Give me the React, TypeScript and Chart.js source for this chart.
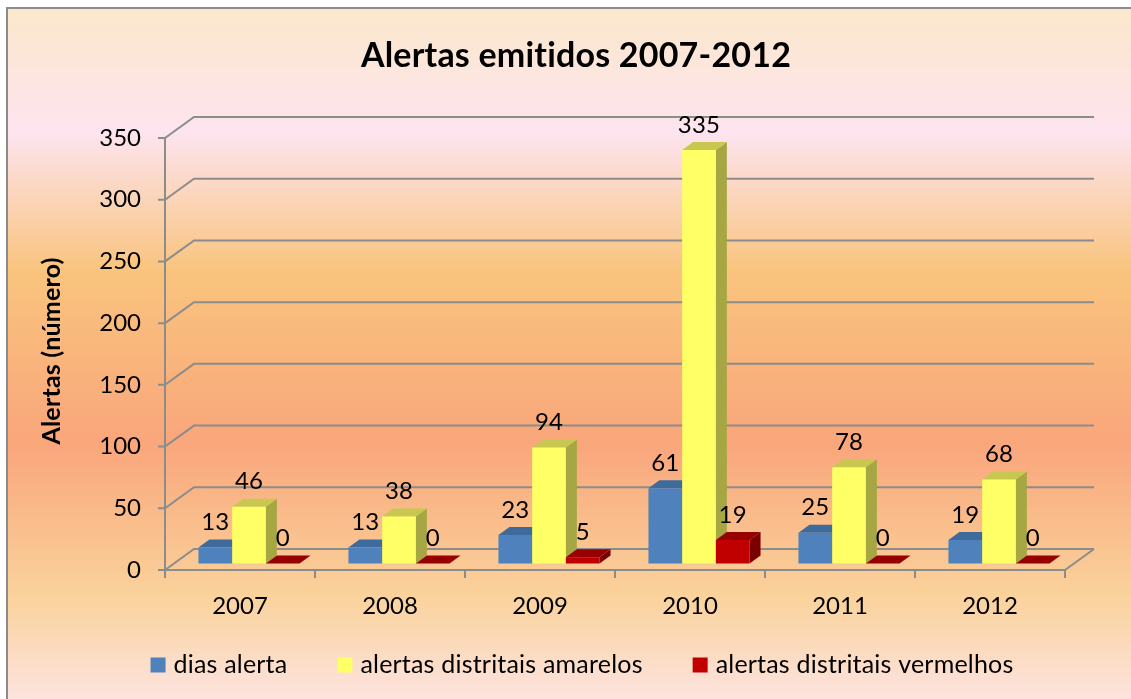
import React, { useEffect, useRef } from "react";
import { Chart, registerables } from "chart.js";

Chart.register(...registerables);

// ---------- data ----------
const categories = ["2007", "2008", "2009", "2010", "2011", "2012"];
const diasAlerta = [13, 13, 23, 61, 25, 19];
const alertasAmarelos = [46, 38, 94, 335, 78, 68];
const alertasVermelhos = [0, 0, 5, 19, 0, 0];
const seriesNames = ["dias alerta", "alertas distritais amarelos", "alertas distritais vermelhos"];
const yTickValues = [0, 50, 100, 150, 200, 250, 300, 350];
const titleText = "Alertas emitidos 2007-2012";
const yTitleText = "Alertas (número)";

// ---------- styles ----------
const FONT = "Lato, 'Open Sans', 'DejaVu Sans', sans-serif";
const FRONT = ["#4F81BD", "#FFFF66", "#C00000"];
const TOP = ["#3F6A9C", "#C8C850", "#960000"];
const SIDE = ["#385D8A", "#A6A642", "#7A0000"];
const GRID = "#8C8C8C";
const WALL_DX = 29;
const WALL_DY = 21;
const SHIFT_X = 9;
const SHIFT_Y = 6.5;
const BAR_DX = 11;
const BAR_DY = 8;

const threeD = {
  id: "threeD",
  beforeDraw(chart: any) {
    const { ctx, width, height } = chart;
    const area = chart.chartArea;
    const ys = chart.scales.y;
    ctx.save();
    ctx.fillStyle = "#ffffff";
    ctx.fillRect(0, 0, width, height);
    const g = ctx.createLinearGradient(0, 8, 0, height);
    g.addColorStop(0.0, "#FBE8CB");
    g.addColorStop(0.18, "#FDE4EF");
    g.addColorStop(0.38, "#F9C47E");
    g.addColorStop(0.63, "#F9A67B");
    g.addColorStop(0.85, "#FAD29B");
    g.addColorStop(1.0, "#FDE3DF");
    ctx.fillStyle = g;
    ctx.fillRect(7, 8, width - 7, height - 8);
    ctx.strokeStyle = "#8C8C8C";
    ctx.lineWidth = 2;
    ctx.beginPath();
    ctx.moveTo(7, height + 5);
    ctx.lineTo(7, 8);
    ctx.lineTo(width + 5, 8);
    ctx.stroke();

    // walls / gridlines
    ctx.strokeStyle = GRID;
    ctx.lineWidth = 2;
    yTickValues.forEach((v) => {
      const py = ys.getPixelForValue(v);
      ctx.beginPath();
      ctx.moveTo(area.left - 7, py);
      ctx.lineTo(area.left, py);
      ctx.lineTo(area.left + WALL_DX, py - WALL_DY);
      ctx.lineTo(area.right + WALL_DX, py - WALL_DY);
      ctx.stroke();
    });
    const p0 = ys.getPixelForValue(0);
    const pTop = ys.getPixelForValue(yTickValues[yTickValues.length - 1]);
    ctx.beginPath();
    ctx.moveTo(area.left, pTop);
    ctx.lineTo(area.left, p0);
    ctx.lineTo(area.right, p0);
    ctx.lineTo(area.right + WALL_DX, p0 - WALL_DY);
    ctx.stroke();
    const n = categories.length;
    for (let i = 0; i <= n; i++) {
      const bx = area.left + ((area.right - area.left) * i) / n;
      ctx.beginPath();
      ctx.moveTo(bx, p0);
      ctx.lineTo(bx, p0 + 8);
      ctx.stroke();
    }
    ctx.restore();
  },
  beforeDatasetsDraw(chart: any) {
    const ctx = chart.ctx;
    ctx.save();
    ctx.translate(SHIFT_X, -SHIFT_Y);
    const metas = chart.data.datasets.map((_: any, i: number) => chart.getDatasetMeta(i));
    for (let j = 0; j < categories.length; j++) {
      for (let i = 0; i < metas.length; i++) {
        const el = metas[i].data[j];
        if (!el) continue;
        const { x, y, base, width } = el.getProps(["x", "y", "base", "width"], true);
        const x1 = x - width / 2;
        const x2 = x + width / 2;
        ctx.fillStyle = SIDE[i];
        ctx.beginPath();
        ctx.moveTo(x2, y);
        ctx.lineTo(x2 + BAR_DX, y - BAR_DY);
        ctx.lineTo(x2 + BAR_DX, base - BAR_DY);
        ctx.lineTo(x2, base);
        ctx.closePath();
        ctx.fill();
        ctx.fillStyle = TOP[i];
        ctx.beginPath();
        ctx.moveTo(x1, y);
        ctx.lineTo(x1 + BAR_DX, y - BAR_DY);
        ctx.lineTo(x2 + BAR_DX, y - BAR_DY);
        ctx.lineTo(x2, y);
        ctx.closePath();
        ctx.fill();
        el.draw(ctx);
      }
    }
    ctx.restore();
    return false;
  },
  afterDraw(chart: any) {
    const ctx = chart.ctx;
    ctx.save();
    try {
      (ctx as any).letterSpacing = "0.2px";
    } catch (e) {}
    // data labels
    ctx.fillStyle = "#000";
    ctx.font = `24px ${FONT}`;
    ctx.textAlign = "center";
    ctx.textBaseline = "middle";
    chart.data.datasets.forEach((ds: any, i: number) => {
      const meta = chart.getDatasetMeta(i);
      meta.data.forEach((el: any, j: number) => {
        const { x, y } = el.getProps(["x", "y"], true);
        ctx.fillText(String(ds.data[j]), x + SHIFT_X, y - SHIFT_Y - 25);
      });
    });
    // title
    ctx.font = `bold 34px ${FONT}`;
    ctx.textBaseline = "alphabetic";
    ctx.fillText(titleText, 576, 67);
    // y-axis title
    ctx.save();
    ctx.translate(52, 351);
    ctx.rotate(-Math.PI / 2);
    ctx.font = `bold 25px ${FONT}`;
    ctx.textBaseline = "middle";
    ctx.fillText(yTitleText, 0, 0);
    ctx.restore();
    // legend
    ctx.font = `25px ${FONT}`;
    ctx.textAlign = "left";
    ctx.textBaseline = "middle";
    const box = 15;
    const gap = 8;
    const itemGap = 50;
    const widths = seriesNames.map((s) => ctx.measureText(s).width);
    const total = widths.reduce((a, w) => a + box + gap + w, 0) + itemGap * (seriesNames.length - 1);
    let lx = 582 - total / 2;
    const ly = 665;
    seriesNames.forEach((s, i) => {
      ctx.fillStyle = FRONT[i];
      ctx.fillRect(lx, ly - box / 2, box, box);
      ctx.fillStyle = "#000";
      ctx.fillText(s, lx + box + gap, ly);
      lx += box + gap + widths[i] + itemGap;
    });
    ctx.restore();
  },
};

export default function App() {
  const ref = useRef<HTMLCanvasElement | null>(null);
  useEffect(() => {
    document.body.style.margin = "0";
    document.body.style.overflow = "hidden";
    let chart: Chart | null = null;
    let cancelled = false;
    const make = () => {
      if (cancelled || !ref.current) return;
      chart = new Chart(ref.current, {
        type: "bar",
        data: {
          labels: categories,
          datasets: [
            { label: seriesNames[0], data: diasAlerta, backgroundColor: FRONT[0], borderWidth: 0 },
            { label: seriesNames[1], data: alertasAmarelos, backgroundColor: FRONT[1], borderWidth: 0 },
            { label: seriesNames[2], data: alertasVermelhos, backgroundColor: FRONT[2], borderWidth: 0 },
          ],
        },
        options: {
          responsive: false,
          animation: false,
          events: [],
          datasets: { bar: { categoryPercentage: 0.674, barPercentage: 1.0 } },
          layout: { padding: { left: 0, right: 66, top: 138, bottom: 69 } },
          plugins: {
            legend: { display: false },
            title: { display: false },
            tooltip: { enabled: false },
          },
          scales: {
            x: {
              grid: { display: false },
              border: { display: false },
              ticks: { font: { family: FONT, size: 24 }, color: "#000", padding: 14 },
              afterFit: (s: any) => {
                s.height = 60;
              },
            },
            y: {
              min: 0,
              max: 350,
              grid: { display: false },
              border: { display: false },
              ticks: { stepSize: 50, font: { family: FONT, size: 24 }, color: "#000", padding: 16 },
              afterFit: (s: any) => {
                s.width = 165;
              },
            },
          },
        } as any,
        plugins: [threeD as any],
      });
    };
    const fonts: any = (document as any).fonts;
    if (fonts && fonts.load) {
      Promise.all([fonts.load(`22px Lato`), fonts.load(`bold 22px Lato`)]).then(make, make);
    } else {
      make();
    }
    return () => {
      cancelled = true;
      if (chart) chart.destroy();
    };
  }, []);
  return (
    <div style={{ width: 1131, height: 699 }}>
      <canvas ref={ref} width={1131} height={699} style={{ display: "block", width: 1131, height: 699 }} />
    </div>
  );
}
